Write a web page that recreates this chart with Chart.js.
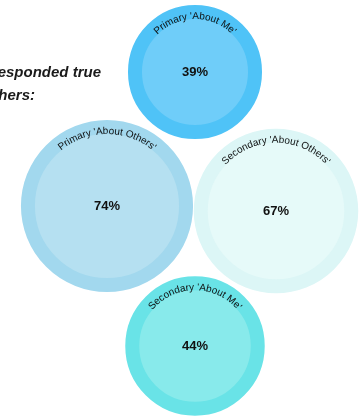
<!DOCTYPE html>
<html>
<head>
<meta charset="utf-8">
<script src="https://cdn.jsdelivr.net/npm/chart.js@4"></script>
<style>
  html, body { margin: 0; padding: 0; background: #fff; }
  #wrap { width: 361px; height: 419px; position: relative; }
</style>
</head>
<body>
<div id="wrap"><canvas id="bubbleChart"></canvas></div>
<script>
// Datos del gráfico
const labels = ["Primary 'About Me'", "Primary 'About Others'", "Secondary 'About Others'", "Secondary 'About Me'"];
const values = [39, 74, 67, 44];  // % que respondió "true"
const titleLines = ['Percentage of pupils who responded true', 'about themselves and others:'];

// Colocación de cada burbuja (unidades de los ejes)
const layoutX = [195, 107, 276, 195];
const layoutY = [72, 206, 211, 346];

// Colores: anillo exterior y relleno interior
const ringColors = ['#4fc3f7', '#a2d8ee', '#dcf6f6', '#69e3e7'];
const fillColors = ['#6fcdf9', '#b5e0f1', '#e6faf9', '#88eaeb'];
const ring = 14;

// Radio exterior en función del valor
const outerRadius = v => 45.8 + 0.544 * v;

const points = values.map((v, i) => ({ x: layoutX[i], y: layoutY[i], r: outerRadius(v) - ring / 2 }));

// Texto curvo sobre el arco superior
function drawArcText(ctx, text, cx, cy, radius) {
  const widths = [...text].map(ch => ctx.measureText(ch).width);
  const total = widths.reduce((a, b) => a + b, 0);
  let angle = -Math.PI / 2 - total / (2 * radius);
  [...text].forEach((ch, i) => {
    const a = angle + widths[i] / (2 * radius);
    ctx.save();
    ctx.translate(cx + radius * Math.cos(a), cy + radius * Math.sin(a));
    ctx.rotate(a + Math.PI / 2);
    ctx.fillText(ch, 0, 0);
    ctx.restore();
    angle += widths[i] / radius;
  });
}

const labelsPlugin = {
  id: 'bubbleLabels',
  afterDatasetsDraw(chart) {
    const ctx = chart.ctx;
    const meta = chart.getDatasetMeta(0);
    ctx.save();
    ctx.fillStyle = '#111';
    meta.data.forEach((el, i) => {
      const R = outerRadius(values[i]);
      ctx.font = '10px "Liberation Sans", Arial, sans-serif';
      ctx.textAlign = 'center';
      ctx.textBaseline = 'alphabetic';
      drawArcText(ctx, labels[i], el.x, el.y, R - 14);
      ctx.font = 'bold 13px "Liberation Sans", Arial, sans-serif';
      ctx.textBaseline = 'middle';
      ctx.fillText(values[i] + '%', el.x, el.y);
    });
    // Título (cortado por la izquierda)
    ctx.font = 'italic bold 15px "Liberation Sans", Arial, sans-serif';
    ctx.fillStyle = '#1a1a1a';
    ctx.textAlign = 'right';
    ctx.textBaseline = 'alphabetic';
    ctx.fillText(titleLines[0], 101, 77);
    ctx.fillText(titleLines[1], 35, 100);
    ctx.restore();
  }
};

const ctx = document.getElementById('bubbleChart').getContext('2d');
new Chart(ctx, {
  type: 'bubble',
  data: {
    labels: labels,
    datasets: [{
      data: points,
      backgroundColor: fillColors,
      borderColor: ringColors,
      borderWidth: ring,
      hoverBorderWidth: ring,
      hoverRadius: 0,
      clip: false
    }]
  },
  options: {
    responsive: true,
    maintainAspectRatio: false,
    animation: false,
    events: [],
    layout: { padding: 0, autoPadding: false },
    plugins: { legend: { display: false }, tooltip: { enabled: false } },
    scales: {
      x: { display: false, min: 0, max: 361 },
      y: { display: false, min: 0, max: 419, reverse: true }
    }
  },
  plugins: [labelsPlugin]
});
</script>
</body>
</html>
